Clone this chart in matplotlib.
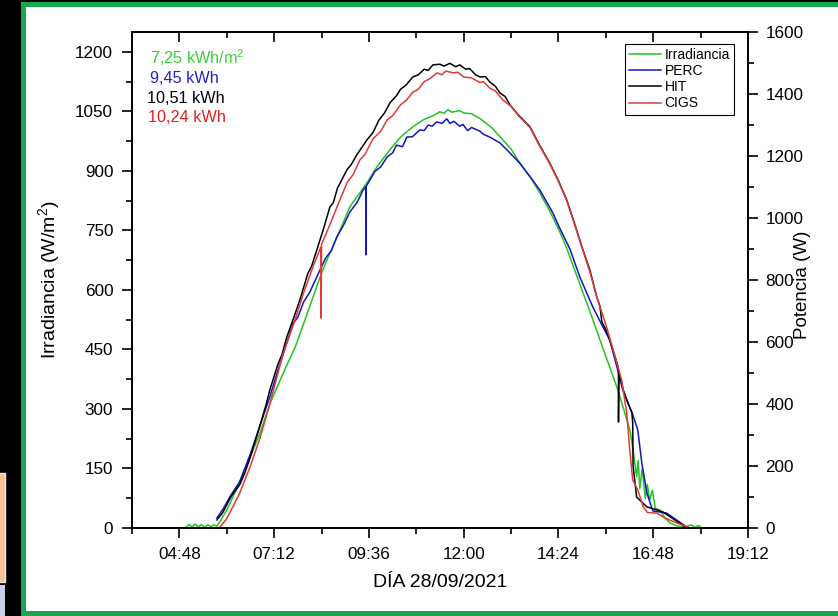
import matplotlib
matplotlib.use("Agg")
import matplotlib.pyplot as plt
from matplotlib.patches import Rectangle
from matplotlib.ticker import MultipleLocator, FuncFormatter

plt.rcParams["font.family"] = ["Liberation Sans", "DejaVu Sans"]
plt.rcParams["mathtext.default"] = "regular"

# --- data: (hour of day, value) ---
# irradiance in W/m2 (left axis)
irr_pts = [(4.98, 3), (5.05, 9), (5.12, 2), (5.2, 10), (5.28, 3), (5.36, 9),
           (5.44, 2), (5.52, 8), (5.6, 3), (5.68, 8), (5.75, 4),
           (6.0, 45), (6.3, 110), (6.6, 180), (6.84, 239), (7.1, 315), (7.5, 406),
           (7.73, 455), (8.0, 530), (8.41, 645), (8.54, 676), (8.8, 735),
           (9.12, 810), (9.55, 870), (9.8, 910), (10.13, 953), (10.4, 985),
           (10.71, 1011), (11.0, 1030), (11.2, 1038), (11.4, 1049), (11.5, 1045),
           (11.6, 1054), (11.7, 1048), (11.9, 1052), (12.0, 1046), (12.2, 1044),
           (12.41, 1032), (12.7, 1010), (12.92, 986), (13.2, 955), (13.42, 920),
           (13.7, 882), (13.93, 844), (14.2, 795), (14.44, 745), (14.61, 705),
           (14.94, 615), (15.2, 545), (15.45, 474), (15.7, 405), (15.88, 355),
           (16.05, 300), (16.21, 247), (16.3, 190), (16.38, 129), (16.42, 170),
           (16.46, 100), (16.52, 150), (16.6, 75), (16.65, 110), (16.71, 71),
           (16.78, 95), (16.85, 50), (16.97, 45), (17.1, 25), (17.22, 13),
           (17.4, 5), (17.6, 2), (17.75, 8), (17.85, 2), (17.95, 6), (18.0, 2)]

# power in W (right axis)
perc_pts = [(5.75, 32), (5.9, 60), (6.1, 105), (6.33, 150), (6.6, 240), (6.84, 330),
            (7.09, 423), (7.3, 510), (7.52, 597), (7.68, 660), (7.8, 680),
            (7.95, 730), (8.1, 760), (8.28, 810), (8.5, 870), (8.65, 895),
            (8.79, 940), (8.95, 975), (9.12, 1020), (9.3, 1050), (9.45, 1090),
            (9.52, 1100), (9.52, 881), (9.53, 1102), (9.75, 1150), (9.9, 1165),
            (10.06, 1197), (10.2, 1210), (10.3, 1235), (10.45, 1230), (10.56, 1261),
            (10.7, 1262), (10.89, 1284), (11.0, 1282), (11.1, 1300), (11.2, 1296),
            (11.32, 1310), (11.45, 1305), (11.57, 1320), (11.65, 1305), (11.75, 1312),
            (11.9, 1296), (11.98, 1302), (12.1, 1282), (12.2, 1292), (12.41, 1280),
            (12.5, 1270), (12.66, 1261), (12.92, 1242), (13.17, 1210), (13.42, 1177),
            (13.7, 1130), (13.93, 1090), (14.26, 1016), (14.44, 965), (14.69, 900),
            (14.94, 810), (15.27, 713), (15.5, 655), (15.7, 606), (15.9, 510),
            (16.03, 445), (16.13, 413), (16.27, 370), (16.41, 316), (16.51, 210),
            (16.64, 113), (16.79, 55), (16.95, 52), (17.14, 48), (17.4, 25), (17.65, 3)]

hit_pts = [(5.75, 26), (5.9, 50), (6.1, 100), (6.33, 140), (6.45, 175), (6.6, 230),
           (6.84, 330), (7.0, 400), (7.09, 445), (7.3, 530), (7.4, 560), (7.52, 616),
           (7.7, 680), (7.85, 735), (8.05, 820), (8.15, 845), (8.28, 897), (8.45, 965),
           (8.61, 1035), (8.7, 1050), (8.8, 1095), (9.04, 1155), (9.15, 1172),
           (9.3, 1205), (9.55, 1252), (9.7, 1275), (9.85, 1315), (10.0, 1340),
           (10.13, 1371), (10.3, 1395), (10.4, 1415), (10.55, 1430), (10.71, 1455),
           (10.85, 1462), (11.0, 1480), (11.1, 1476), (11.22, 1494), (11.4, 1496),
           (11.5, 1490), (11.65, 1499), (11.8, 1488), (11.9, 1494), (12.05, 1480),
           (12.15, 1482), (12.3, 1462), (12.41, 1455), (12.55, 1456), (12.66, 1439),
           (12.8, 1425), (12.92, 1403), (13.05, 1392), (13.17, 1365), (13.4, 1330),
           (13.68, 1294), (13.9, 1240), (14.18, 1177), (14.4, 1120), (14.61, 1058),
           (14.8, 985), (15.02, 897), (15.2, 830), (15.37, 745), (15.45, 715),
           (15.5, 665), (15.6, 640), (15.7, 606), (15.85, 545), (15.92, 515),
           (15.92, 342), (15.93, 505), (16.03, 450), (16.13, 413), (16.26, 371),
           (16.28, 339), (16.29, 200), (16.38, 100), (16.5, 85), (16.64, 68),
           (16.9, 58), (17.04, 52), (17.3, 30), (17.65, 0)]

cigs_pts = [(5.83, 3), (6.0, 30), (6.33, 113), (6.6, 200), (6.84, 290), (7.09, 400),
            (7.42, 560), (7.7, 660), (7.95, 760), (8.18, 842), (8.38, 906),
            (8.39, 677), (8.4, 915), (8.6, 975), (8.79, 1035), (9.05, 1115),
            (9.2, 1140), (9.37, 1187), (9.5, 1205), (9.7, 1255), (9.9, 1280),
            (10.06, 1316), (10.2, 1330), (10.4, 1365), (10.55, 1380), (10.71, 1406),
            (10.85, 1415), (11.0, 1440), (11.15, 1450), (11.32, 1468), (11.45, 1462),
            (11.55, 1474), (11.73, 1468), (11.85, 1470), (12.0, 1455), (12.2, 1452),
            (12.41, 1437), (12.5, 1440), (12.66, 1419), (12.8, 1410), (12.99, 1381),
            (13.2, 1360), (13.4, 1328), (13.68, 1292), (13.9, 1238), (14.18, 1175),
            (14.4, 1118), (14.61, 1056), (14.8, 983), (15.02, 895), (15.2, 825),
            (15.37, 745), (15.5, 695), (15.62, 648), (15.75, 590), (15.85, 545),
            (16.0, 477), (16.13, 371), (16.2, 261), (16.28, 155), (16.41, 123),
            (16.54, 70), (16.65, 50), (16.89, 48), (17.1, 32), (17.4, 16), (17.68, 3)]

labels = ["Irradiancia", "PERC", "HIT", "CIGS"]
energy = ["7,25 kWh/m$^2$", "9,45 kWh", "10,51 kWh", "10,24 kWh"]
colors = ["#22c422", "#1414c0", "#000000", "#e03a3a"]
txt_colors = ["#3ccc3c", "#2323c8", "#000000", "#e02020"]

x_ticks = [4.8, 7.2, 9.6, 12.0, 14.4, 16.8, 19.2]


def hhmm(v, pos=None):
    h = int(v)
    m = int(round((v - h) * 60))
    return f"{h:02d}:{m:02d}"


def unzip(pts):
    return [p[0] for p in pts], [p[1] for p in pts]


W, H = 838, 616
fig = plt.figure(figsize=(W / 100, H / 100), dpi=100, facecolor="black")

# slide frame: green border, white inside, bit of the neighbour slide on the left
frame = [
    Rectangle((21 / W, 0), 1, 1 - 2 / H, facecolor="#16a84c", edgecolor="none"),
    Rectangle((26 / W, 5 / H), 1, 1 - 12 / H, facecolor="white", edgecolor="none"),
    Rectangle((-2 / W, 1 - 582 / H), 6.5 / W, 109 / H, facecolor="#f5c29c",
              edgecolor="#e6e6e6", lw=1),
    Rectangle((-2 / W, 0), 6.5 / W, 31 / H, facecolor="#c8d2e4", edgecolor="none"),
]
for p in frame:
    p.set_transform(fig.transFigure)
    p.set_zorder(-10)
    fig.add_artist(p)

x0, x1, y0, y1 = 132, 748, 32, 528
ax = fig.add_axes([x0 / W, 1 - y1 / H, (x1 - x0) / W, (y1 - y0) / H])
ax2 = ax.twinx()
ax.set_facecolor("white")
ax2.patch.set_visible(False)

l1, = ax.plot(*unzip(irr_pts), color=colors[0], lw=1.1)
l2, = ax2.plot(*unzip(perc_pts), color=colors[1], lw=1.1)
l3, = ax2.plot(*unzip(hit_pts), color=colors[2], lw=1.1)
l4, = ax2.plot(*unzip(cigs_pts), color=colors[3], lw=1.1)

ax.set_xlim(3.6, 19.2)
ax.set_ylim(0, 1250)
ax2.set_ylim(0, 1600)

ax.set_xticks(x_ticks)
ax.xaxis.set_minor_locator(MultipleLocator(1.2))
ax.xaxis.set_major_formatter(FuncFormatter(hhmm))
ax.yaxis.set_major_locator(MultipleLocator(150))
ax.yaxis.set_minor_locator(MultipleLocator(75))
ax2.yaxis.set_major_locator(MultipleLocator(200))
ax2.yaxis.set_minor_locator(MultipleLocator(100))

for a in (ax, ax2):
    for s in a.spines.values():
        s.set_linewidth(1.2)
ax.tick_params(which="both", direction="out", width=1.2, labelsize=12.3, top=False)
ax.tick_params(which="major", length=7)
ax.tick_params(which="minor", length=4)
ax.tick_params(axis="y", which="major", pad=6.5)
ax.tick_params(axis="x", which="major", pad=6.5)
ax2.tick_params(which="both", direction="out", width=1.2, labelsize=12.3)
ax2.tick_params(which="major", length=7, pad=5.5)
ax2.tick_params(which="minor", length=4)

# inward ticks along the top edge
top = ax.secondary_xaxis("top")
top.set_xticks(x_ticks)
top.xaxis.set_minor_locator(MultipleLocator(1.2))
top.tick_params(which="both", direction="in", width=1.2, labeltop=False)
top.tick_params(which="major", length=7)
top.tick_params(which="minor", length=4)
top.spines["top"].set_linewidth(1.2)

ax.set_ylabel("Irradiancia (W/m$^2$)", fontsize=14)
ax2.set_ylabel("Potencia (W)", fontsize=13.5)
ax.set_xlabel("DÍA 28/09/2021", fontsize=14)
ax.yaxis.set_label_coords(-0.113, 0.5)
ax2.yaxis.set_label_coords(1.074, 0.49)
ax.xaxis.set_label_coords(0.5, -0.093)

# daily energy totals
tx = [150, 150, 147, 148]
ty = [58, 79, 99, 118]
for s, c, px, py in zip(energy, txt_colors, tx, ty):
    ax.text((px - x0) / (x1 - x0), (y1 - py) / (y1 - y0), s, color=c,
            fontsize=11.7, ha="left", va="center", transform=ax.transAxes)

leg = ax2.legend([l1, l2, l3, l4], labels, loc="upper right",
                 bbox_to_anchor=((734 - x0) / (x1 - x0), (y1 - 44) / (y1 - y0)),
                 borderaxespad=0, fontsize=10, fancybox=False, framealpha=1,
                 edgecolor="black", handlelength=2.3, handletextpad=0.25,
                 labelspacing=0.15, borderpad=0.3)
leg.get_frame().set_linewidth(0.8)

fig.savefig("out.png", dpi=100, facecolor=fig.get_facecolor())
